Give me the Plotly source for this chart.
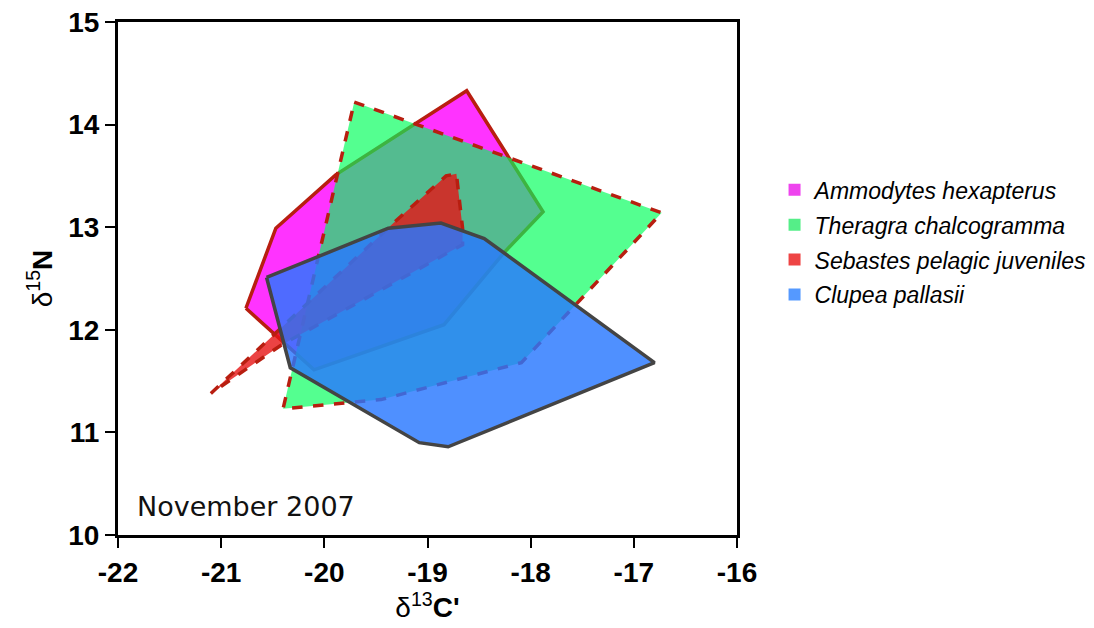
import plotly.graph_objects as go

species = ["Ammodytes hexapterus", "Theragra chalcogramma",
           "Sebastes pelagic juveniles", "Clupea pallasii"]

ammo_x = [-20.76, -20.47, -19.89, -18.62, -17.88, -18.26, -18.84, -20.10]
ammo_y = [12.21, 12.99, 13.51, 14.33, 13.15, 12.75, 12.05, 11.61]

ther_x = [-19.71, -16.73, -18.09, -19.45, -20.40]
ther_y = [14.22, 13.14, 11.68, 11.32, 11.23]

seb_x = [-21.10, -19.33, -18.82, -18.72, -18.66, -18.66, -20.42]
seb_y = [11.38, 13.04, 13.50, 13.52, 12.99, 12.83, 11.85]

clu_x = [-20.56, -19.38, -18.87, -18.45, -16.80, -18.80, -19.08, -20.33]
clu_y = [12.51, 12.99, 13.04, 12.89, 11.68, 10.86, 10.90, 11.63]

x_ticks = [-22, -21, -20, -19, -18, -17, -16]
y_ticks = [10, 11, 12, 13, 14, 15]

fills = ["rgba(255,0,255,0.80)", "rgba(0,255,90,0.67)",
         "rgba(230,20,20,0.80)", "rgba(40,120,255,0.82)"]
legend_cols = ["#ee44ee", "#55ee88", "#ee4444", "#5599ff"]
edge_cols = ["#b81e10", "#b81e10", "#b81e10", "#444444"]
dashes = ["solid", "dash", "dash", "solid"]

polys = [(ammo_x, ammo_y), (ther_x, ther_y), (seb_x, seb_y), (clu_x, clu_y)]

fig = go.Figure()
for (px, py), fc, ec, ds in zip(polys, fills, edge_cols, dashes):
    fig.add_trace(go.Scatter(
        x=px + [px[0]], y=py + [py[0]], mode="lines", fill="toself",
        fillcolor=fc, line=dict(color=ec, width=3.5, dash=ds),
        showlegend=False, hoverinfo="skip"))

for i, (name, col) in enumerate(zip(species, legend_cols)):
    fig.add_trace(go.Scatter(
        x=[None], y=[None], mode="markers", name=name, legendgroup=f"g{i}",
        marker=dict(symbol="square", size=13, color=col)))

fig.add_annotation(x=0.028, y=0.022, xref="paper", yref="paper",
                   xanchor="left", yanchor="bottom", showarrow=False,
                   text="November 2007",
                   font=dict(family="DejaVu Sans", size=27, color="#111"))

axis_common = dict(showgrid=False, zeroline=False, showline=True,
                   linecolor="black", linewidth=3, mirror=True,
                   ticks="outside", ticklen=10, tickwidth=2, tickcolor="black",
                   tickfont=dict(family="Liberation Sans", size=28, color="black",
                                 weight="bold"))

fig.update_xaxes(range=[-22, -16], tickvals=x_ticks,
                 ticktext=[str(v) for v in x_ticks],
                 title=dict(text="δ<sup>13</sup><b>C'</b>", standoff=10,
                            font=dict(family="Liberation Sans", size=28, color="black")),
                 **axis_common)
fig.update_yaxes(range=[10, 15], tickvals=y_ticks,
                 ticktext=[str(v) for v in y_ticks],
                 title=dict(text="δ<sup>15</sup><b>N</b>", standoff=8,
                            font=dict(family="Liberation Sans", size=28, color="black")),
                 **axis_common)

fig.update_layout(
    width=1094, height=628,
    margin=dict(l=118, r=357, t=22, b=93, autoexpand=False),
    plot_bgcolor="white", paper_bgcolor="white",
    legend=dict(x=0.708, y=0.732, xref="container", yref="container",
                xanchor="left", yanchor="top",
                font=dict(family="Liberation Sans", size=23, color="black",
                          style="italic"),
                tracegroupgap=2, itemsizing="constant", bgcolor="rgba(0,0,0,0)"),
)

fig.write_html("out.html")
